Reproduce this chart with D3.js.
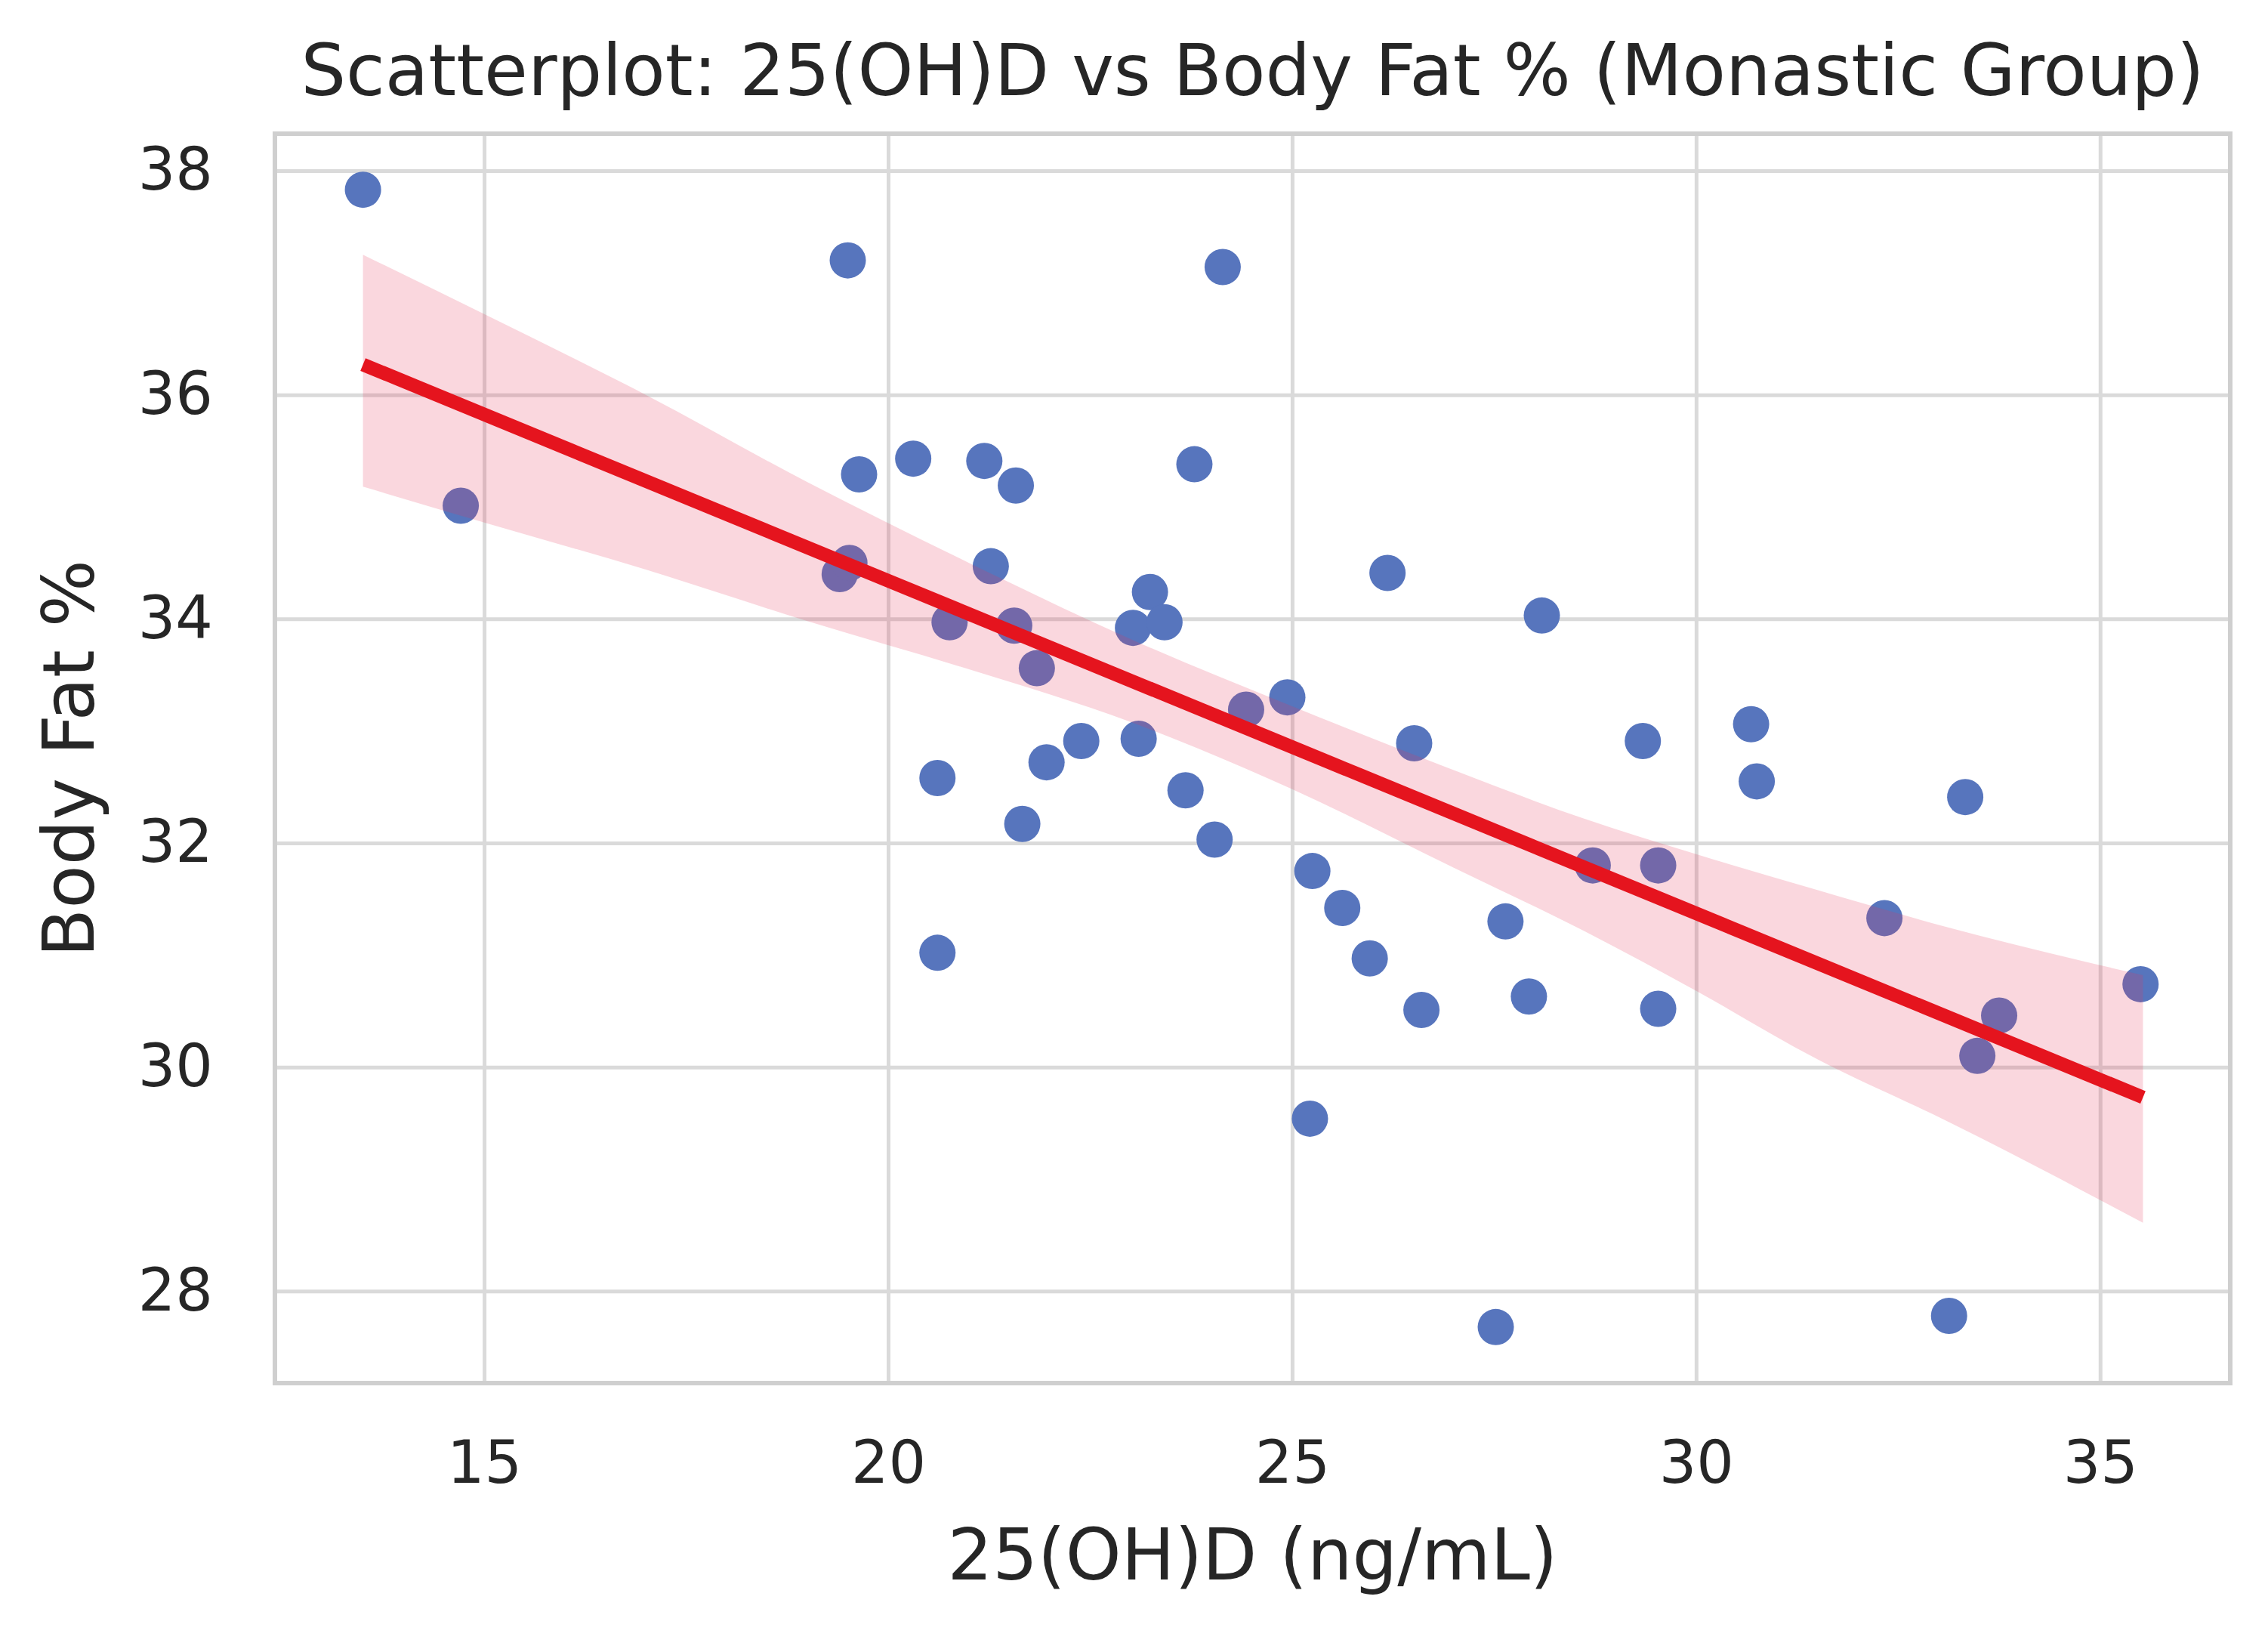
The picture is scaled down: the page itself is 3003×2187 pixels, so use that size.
<!DOCTYPE html>
<html>
<head>
<meta charset="utf-8">
<script src="https://cdn.jsdelivr.net/npm/d3@7"></script>
<style>
    body { margin: 0; background: #ffffff; }
    svg { display: block; font-family: "DejaVu Sans", sans-serif; }
</style>
</head>
<body>
<svg id="bodyFatChart" width="3003" height="2187"></svg>
<script>
"use strict";
// 25(OH)D (ng/mL) per subject
var vitaminD = [
    13.50, 14.71, 19.50, 24.14, 19.64, 20.31, 21.19, 21.58, 23.79, 19.40,
    19.52, 21.27, 20.76, 21.56, 21.84, 23.24, 23.03, 23.42, 26.18, 28.09,
    24.43, 24.94, 21.96, 22.39, 23.10, 26.51, 29.34, 30.68, 20.61, 21.66,
    23.68, 24.04, 20.61, 25.25, 25.62, 25.96, 26.60, 27.64, 27.93, 25.22,
    27.52, 30.75, 33.33, 28.72, 29.53, 29.53, 32.33, 33.75, 33.48, 35.50,
    33.13
];
// Body fat % per subject
var bodyFat = [
    37.83, 35.01, 37.20, 37.14, 35.29, 35.43, 35.41, 35.19, 35.38, 34.40,
    34.50, 34.47, 33.97, 33.94, 33.56, 34.24, 33.92, 33.97, 34.41, 34.03,
    33.19, 33.30, 32.72, 32.91, 32.93, 32.89, 32.91, 33.06, 32.58, 32.17,
    32.47, 32.03, 31.02, 31.75, 31.42, 30.97, 30.51, 31.30, 30.63, 29.54,
    27.68, 32.55, 32.41, 31.80, 31.80, 30.52, 31.33, 30.46, 30.10, 30.74,
    27.78
];
// regression line end points
var fitX = [13.50, 35.53];
var fitY = [36.27, 29.73];
// confidence band
var bandX = [13.50, 15.0, 17.0, 19.0, 21.0, 23.0, 25.0, 27.0, 28.6, 30.0, 31.5, 33.1, 35.53];
var bandUpper = [37.25, 36.72, 36.00, 35.22, 34.50, 33.82, 33.22, 32.65, 32.22, 31.90, 31.58, 31.25, 30.82];
var bandLower = [35.18, 34.86, 34.44, 33.98, 33.55, 33.08, 32.48, 31.78, 31.22, 30.68, 30.07, 29.52, 28.61];
var xTicks = [15, 20, 25, 30, 35];
var yTicks = [28, 30, 32, 34, 36, 38];

var svg = d3.select('#bodyFatChart');
var margin = { top: 177, right: 50, bottom: 356, left: 364 };
var width = +svg.attr('width') - margin.left - margin.right;
var height = +svg.attr('height') - margin.top - margin.bottom;
var textColor = '#262626';
var fontFamily = '"DejaVu Sans", sans-serif';

var x = d3.scaleLinear().domain([12.41, 36.61]).range([0, width]);
var y = d3.scaleLinear().domain([27.18, 38.33]).range([height, 0]);

var g = svg.append('g').attr('transform', "translate(" + margin.left + "," + margin.top + ")");

// grid lines
g.append('g')
    .attr('class', 'grid grid--x')
    .attr('transform', "translate(0," + height + ")")
    .call(d3.axisBottom(x).tickValues(xTicks).tickSize(-height).tickFormat(''))
    .call(function (a) { a.select('.domain').remove(); })
    .selectAll('line').attr('stroke', '#dadada').attr('stroke-width', 5);
g.append('g')
    .attr('class', 'grid grid--y')
    .call(d3.axisLeft(y).tickValues(yTicks).tickSize(-width).tickFormat(''))
    .call(function (a) { a.select('.domain').remove(); })
    .selectAll('line').attr('stroke', '#dadada').attr('stroke-width', 5);

// points
var data = vitaminD.map(function (v, i) { return [v, bodyFat[i]]; });
g.append('g')
    .selectAll('circle')
    .data(data)
    .enter().append('circle')
    .attr('cx', function (d) { return x(d[0]); })
    .attr('cy', function (d) { return y(d[1]); })
    .attr('r', 24)
    .attr('fill', '#5775bd');

// confidence band over the points
var band = d3.area()
    .curve(d3.curveMonotoneX)
    .x(function (d, i) { return x(bandX[i]); })
    .y0(function (d, i) { return y(bandLower[i]); })
    .y1(function (d, i) { return y(bandUpper[i]); });
g.append('path')
    .datum(bandX)
    .attr('d', band)
    .attr('fill', 'rgb(230,55,90)')
    .attr('fill-opacity', 0.2);

// regression line
var line = d3.line()
    .x(function (d, i) { return x(fitX[i]); })
    .y(function (d, i) { return y(fitY[i]); });
g.append('path')
    .datum(fitX)
    .attr('d', line)
    .attr('fill', 'none')
    .attr('stroke', '#e5141e')
    .attr('stroke-width', 18);

// frame
g.append('rect')
    .attr('width', width)
    .attr('height', height)
    .attr('fill', 'none')
    .attr('stroke', '#cfcfcf')
    .attr('stroke-width', 6);

// tick labels
var xAxis = g.append('g')
    .attr('class', 'axis axis--x')
    .attr('transform', "translate(0," + height + ")")
    .call(d3.axisBottom(x).tickValues(xTicks).tickSize(0).tickPadding(77));
xAxis.attr('font-family', fontFamily).attr('font-size', '78px');
xAxis.select('.domain').remove();
xAxis.selectAll('text')
    .attr('fill', textColor)
    .attr('dy', '0.71em');

var yAxis = g.append('g')
    .attr('class', 'axis axis--y')
    .call(d3.axisLeft(y).tickValues(yTicks).tickSize(0).tickPadding(82));
yAxis.attr('font-family', fontFamily).attr('font-size', '78px');
yAxis.select('.domain').remove();
yAxis.selectAll('text')
    .attr('fill', textColor);

// titles
svg.append('text')
    .attr('x', margin.left + width / 2)
    .attr('y', 126)
    .attr('text-anchor', 'middle')
    .attr('font-size', '94px')
    .attr('fill', textColor)
    .text('Scatterplot: 25(OH)D vs Body Fat % (Monastic Group)');

svg.append('text')
    .attr('x', margin.left + width / 2)
    .attr('y', 2091)
    .attr('text-anchor', 'middle')
    .attr('font-size', '94px')
    .attr('fill', textColor)
    .text('25(OH)D (ng/mL)');

svg.append('text')
    .attr('transform', "translate(124," + (margin.top + height / 2) + ") rotate(-90)")
    .attr('text-anchor', 'middle')
    .attr('font-size', '94px')
    .attr('fill', textColor)
    .text('Body Fat %');
</script>
</body>
</html>
